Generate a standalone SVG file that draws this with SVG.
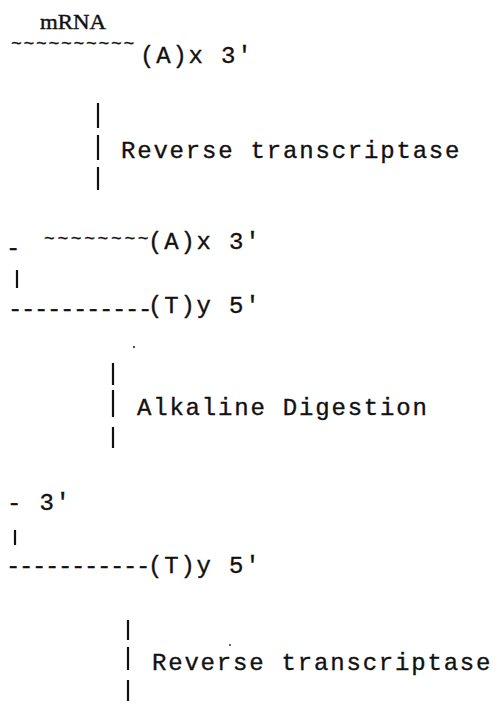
<svg xmlns="http://www.w3.org/2000/svg" width="496" height="701" viewBox="0 0 496 701">
  <style>
    .tw { font-family: "Liberation Mono", "DejaVu Sans Mono", monospace; font-size: 24px; letter-spacing: 1.8px; fill: #111; stroke: #111; stroke-width: 0.35px; }
    .strand { font-family: "Liberation Mono", "DejaVu Sans Mono", monospace; font-size: 24px; fill: #111; stroke: #111; stroke-width: 0.3px; }
    .tilde { font-family: "Liberation Mono", "DejaVu Sans Mono", monospace; font-size: 18px; fill: #111; stroke: #111; stroke-width: 0.3px; }
    .title { font-family: "Liberation Serif", "Times New Roman", serif; font-size: 20px; fill: #111; stroke: #111; stroke-width: 0.4px; }
    .bar { stroke: #111; stroke-width: 2.2; stroke-linecap: butt; }
    .speck { fill: #222; }
  </style>
  <rect width="496" height="701" fill="#fff"/>

  <!-- starting mRNA with poly(A) tail -->
  <g id="mrna">
    <text class="title" x="40" y="29" textLength="66" lengthAdjust="spacingAndGlyphs">mRNA</text>
    <text class="tilde" x="11" y="49" letter-spacing="1.7">~~~~~~~~~~</text>
    <text class="tw" x="140" y="63">(A)x 3'</text>
  </g>

  <!-- first-strand hybrid: mRNA over cDNA -->
  <g id="hybrid">
    <text class="strand" x="6" y="255">-</text>
    <text class="tilde" x="44" y="244" letter-spacing="2.6">~~~~~~~~</text>
    <text class="tw" x="148" y="249">(A)x 3'</text>
    <text class="strand" x="8" y="316" letter-spacing="-1.4">-----------</text>
    <text class="tw" x="148" y="313">(T)y 5'</text>
  </g>

  <!-- single-stranded cDNA after RNA removal -->
  <g id="cdna">
    <text class="tw" x="7" y="510">- 3'</text>
    <text class="strand" x="6" y="573" letter-spacing="-1.4">-----------</text>
    <text class="tw" x="148" y="573">(T)y 5'</text>
  </g>

  <!-- step labels -->
  <g id="step-rt1">
    <text class="tw" x="121" y="158">Reverse transcriptase</text>
  </g>
  <g id="step-alkaline">
    <text class="tw" x="137" y="415">Alkaline Digestion</text>
  </g>
  <g id="step-rt2">
    <text class="tw" x="152" y="670">Reverse transcriptase</text>
  </g>

  <!-- vertical step arrows and hairpin links -->
  <g id="connectors">
    <line class="bar" x1="98" y1="103" x2="98" y2="128"/>
    <line class="bar" x1="98" y1="135" x2="98" y2="160"/>
    <line class="bar" x1="98" y1="167" x2="98" y2="190"/>

    <line class="bar" x1="17" y1="270" x2="17" y2="288"/>

    <line class="bar" x1="113" y1="363" x2="113" y2="385"/>
    <line class="bar" x1="113" y1="390" x2="113" y2="417"/>
    <line class="bar" x1="113" y1="427" x2="113" y2="448"/>

    <line class="bar" x1="15" y1="530" x2="15" y2="545"/>

    <line class="bar" x1="128" y1="620" x2="128" y2="640"/>
    <line class="bar" x1="128" y1="647" x2="128" y2="670"/>
    <line class="bar" x1="128" y1="680" x2="128" y2="701"/>
  </g>

  <circle class="speck" cx="134" cy="347" r="1.1"/>
  <circle class="speck" cx="230" cy="645" r="0.9"/>
</svg>
